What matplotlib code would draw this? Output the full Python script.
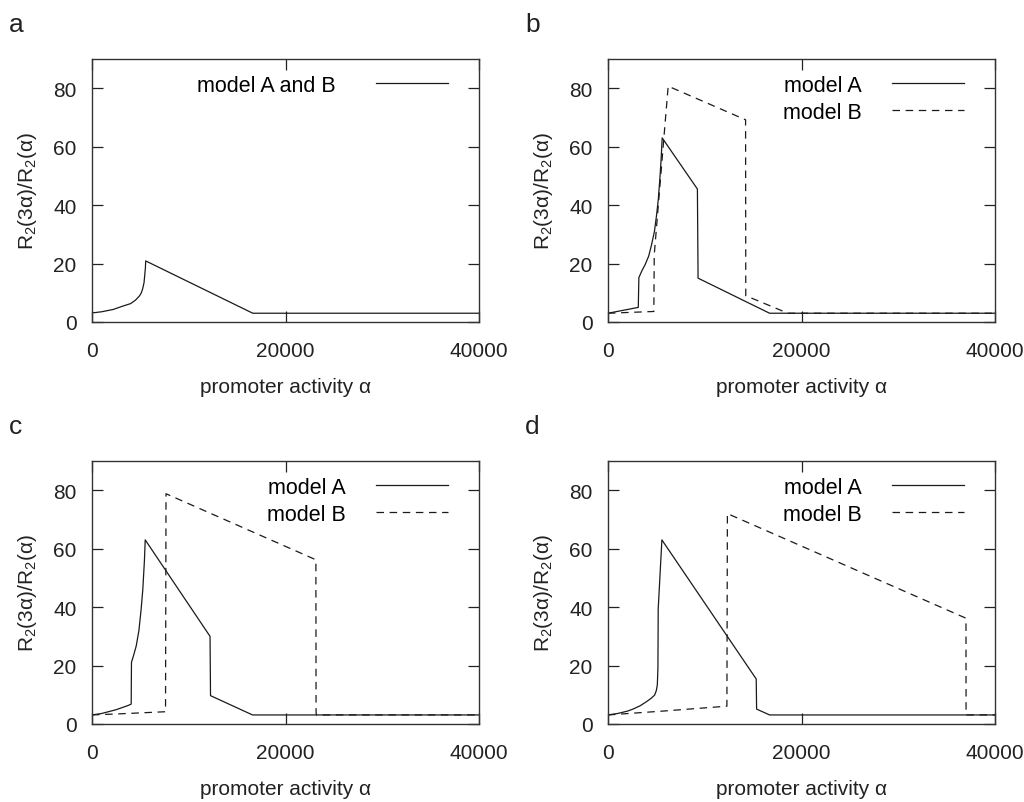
import matplotlib
matplotlib.use("Agg")
import matplotlib.pyplot as plt

plt.rcParams["font.family"] = ["Liberation Sans", "DejaVu Sans"]
plt.rcParams["mathtext.fontset"] = "custom"
plt.rcParams["mathtext.rm"] = "Liberation Sans"
plt.rcParams["mathtext.it"] = "Liberation Sans:italic"
plt.rcParams["mathtext.default"] = "regular"

# panel a: model A and B coincide
a_x = [0, 1000, 2200, 3240, 4000, 4500, 4900, 5100, 5240, 5380, 5450, 5520, 5550,
       16620, 40000]
a_y = [3.1, 3.5, 4.3, 5.5, 6.3, 7.5, 8.9, 10.0, 11.4, 13.5, 16.0, 18.5, 20.9,
       3.0, 3.0]

# panel b
b_A_x = [0, 3130, 3190, 3500, 3820, 4200, 4500, 4800, 5020, 5200, 5360, 5480, 5600,
         9240, 9310, 16700, 40000]
b_A_y = [3.0, 5.0, 15.2, 17.5, 19.5, 22.5, 26.4, 31.0, 36.6, 42.0, 49.0, 55.0, 63.0,
         45.5, 15.0, 3.0, 3.0]
b_B_x = [0, 4740, 4780, 5500, 6220, 14220, 14240, 18590, 40000]
b_B_y = [3.0, 3.6, 23.0, 52.0, 80.7, 69.2, 9.0, 3.0, 3.0]

# panel c
c_A_x = [0, 1000, 1810, 2500, 3190, 3700, 4050, 4080, 4300, 4570, 4850, 5080, 5250,
         5330, 5420, 5500, 12200, 12250, 16590, 40000]
c_A_y = [3.1, 3.6, 4.3, 4.9, 5.7, 6.3, 6.8, 21.1, 23.5, 26.7, 32.0, 39.3, 46.0,
         50.7, 56.0, 63.0, 30.0, 9.7, 3.1, 3.1]
c_B_x = [0, 3000, 7600, 7650, 23140, 23160, 23200, 40000]
c_B_y = [3.1, 3.5, 4.2, 78.8, 56.2, 4.0, 3.1, 3.1]

# panel d
d_A_x = [0, 1000, 2000, 2580, 3300, 3960, 4500, 4820, 5000, 5100, 5160, 5190, 5570,
         15320, 15360, 16700, 40000]
d_A_y = [3.1, 3.6, 4.4, 5.1, 6.2, 7.6, 8.9, 9.9, 11.5, 13.5, 19.0, 39.4, 63.0,
         15.4, 5.1, 3.1, 3.1]
d_B_x = [0, 6000, 12290, 12340, 37000, 37010, 40000]
d_B_y = [3.1, 4.5, 6.1, 72.0, 36.2, 3.1, 3.1]

ylabel = r"R$_2$(3α)/R$_2$(α)"
xlabel = "promoter activity α"
line_col = "#1a1a1a"
dash = (0, (6, 4.5))

fig = plt.figure(figsize=(10.24, 8.03), dpi=100)
W, H = 1024, 803
boxes = {"a": (92, 60), "b": (608, 60), "c": (92, 462), "d": (608, 462)}
aw, ah = 387, 263

series = {
    "a": [(a_x, a_y, "-", "model A and B")],
    "b": [(b_A_x, b_A_y, "-", "model A"), (b_B_x, b_B_y, dash, "model B")],
    "c": [(c_A_x, c_A_y, "-", "model A"), (c_B_x, c_B_y, dash, "model B")],
    "d": [(d_A_x, d_A_y, "-", "model A"), (d_B_x, d_B_y, dash, "model B")],
}

for key, (x0, y0) in boxes.items():
    ax = fig.add_axes([x0 / W, 1 - (y0 + ah) / H, aw / W, ah / H])
    for xs, ys, ls, lab in series[key]:
        ax.plot(xs, ys, color=line_col, linestyle=ls, linewidth=0.9, label=lab)
    ax.set_xlim(0, 40000)
    ax.set_ylim(0, 90)
    ax.set_xticks([0, 20000, 40000])
    ax.set_yticks([0, 20, 40, 60, 80])
    ax.tick_params(direction="in", length=8, width=0.9, top=True, right=True,
                   labelsize=15, colors="#222222")
    ax.tick_params(axis="x", pad=14)
    ax.tick_params(axis="y", pad=11)
    for sp in ax.spines.values():
        sp.set_linewidth(1.0)
        sp.set_color("#333333")
    ax.set_xlabel(xlabel, fontsize=15, labelpad=12, color="#222222")
    ax.set_ylabel(ylabel, fontsize=15, labelpad=10, color="#222222")
    ax.legend(loc="upper right", frameon=False, markerfirst=False, fontsize=15.5,
              handlelength=3.35, handletextpad=1.85 if key == "a" else 1.4,
              labelspacing=0.28, borderpad=0, borderaxespad=0,
              bbox_to_anchor=(1 - 31 / aw, 1 - 16 / ah))
    fig.text((x0 - 83) / W, 1 - (y0 - 28) / H, key, fontsize=19,
             va="baseline", color="#222222")

fig.savefig("out.png", dpi=100)
